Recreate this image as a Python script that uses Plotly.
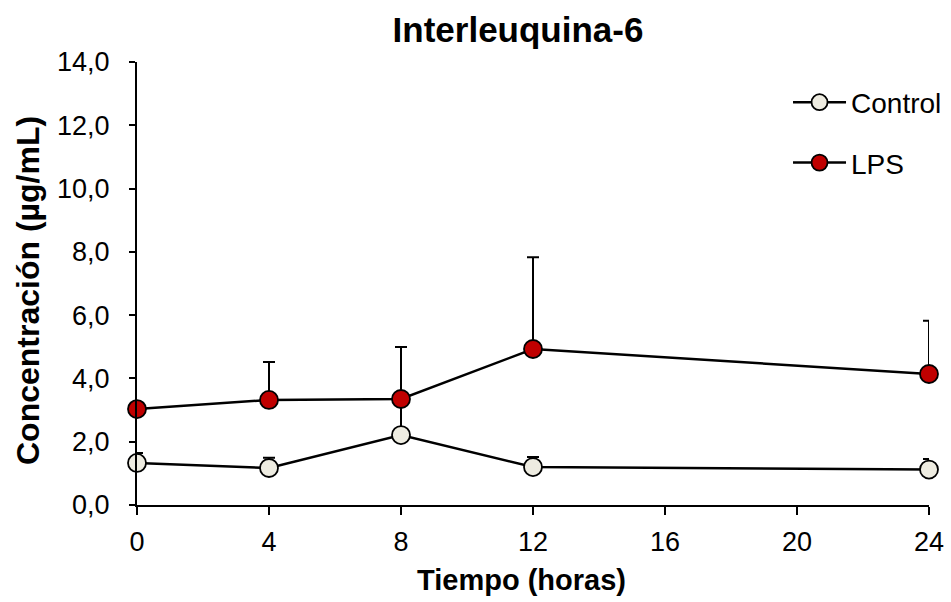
import plotly.graph_objects as go

# Sampling times (hours)
horas = [0, 4, 8, 12, 24]

# IL-6 concentration (µg/mL): mean and upper standard deviation
control_media = [1.33, 1.17, 2.21, 1.20, 1.12]
control_de = [0.31, 0.32, 1.10, 0.32, 0.33]

lps_media = [3.03, 3.32, 3.35, 4.93, 4.14]
lps_de = [0.20, 1.20, 1.64, 2.90, 1.68]

x_ticks = [0, 4, 8, 12, 16, 20, 24]
y_ticks = [0, 2, 4, 6, 8, 10, 12, 14]

FONT = "Liberation Sans, Arial, sans-serif"
W, H = 951, 602

fig = go.Figure()


def serie(nombre, media, de, color):
    return go.Scatter(
        x=horas,
        y=media,
        name=nombre,
        mode="lines+markers",
        line=dict(color="black", width=2.5),
        marker=dict(size=18, color=color, line=dict(color="black", width=1.8)),
        error_y=dict(
            type="data",
            array=de,
            arrayminus=[0] * len(de),
            symmetric=False,
            color="black",
            thickness=2,
            width=6,
        ),
        cliponaxis=False,
        legendgroup=nombre,
    )


fig.add_trace(serie("Control", control_media, control_de, "#EEECE1"))
fig.add_trace(serie("LPS", lps_media, lps_de, "#C00000"))

# Axis titles placed as annotations on the page
fig.add_annotation(
    text="<b>Tiempo (horas)</b>",
    xref="paper", yref="paper",
    x=(521 - 137) / 792, y=-(580 - 505) / 443,
    xanchor="center", yanchor="middle",
    showarrow=False,
    font=dict(size=29, family=FONT, color="black"),
)
fig.add_annotation(
    text="<b>Concentración (µg/mL)</b>",
    xref="paper", yref="paper",
    x=-(137 - 28) / 792, y=(505 - 291) / 443,
    xanchor="center", yanchor="middle",
    textangle=-90,
    showarrow=False,
    font=dict(size=32, family=FONT, color="black"),
)

fig.update_layout(
    width=W,
    height=H,
    margin=dict(l=137, r=22, t=62, b=97, autoexpand=False),
    paper_bgcolor="white",
    plot_bgcolor="white",
    separators=", ",
    font=dict(family=FONT, color="black", size=27),
    title=dict(
        text="<b>Interleuquina-6</b>",
        x=518 / W,
        xanchor="center",
        xref="container",
        y=1 - 30 / H,
        yanchor="middle",
        yref="container",
        font=dict(size=35, family=FONT),
    ),
    showlegend=True,
    legend=dict(
        x=0.822,
        y=0.965,
        xanchor="left",
        yanchor="top",
        font=dict(size=28, family=FONT),
        bgcolor="rgba(0,0,0,0)",
        tracegroupgap=21,
        traceorder="grouped",
        itemwidth=53,
    ),
    xaxis=dict(
        range=[0, 24],
        tickvals=x_ticks,
        ticktext=[str(v) for v in x_ticks],
        showline=True,
        linecolor="black",
        linewidth=2,
        ticks="outside",
        ticklen=8,
        tickwidth=2,
        tickcolor="black",
        showgrid=False,
        zeroline=False,
        tickfont=dict(size=27),
        ticklabelstandoff=4,
    ),
    yaxis=dict(
        range=[0, 14],
        tickvals=y_ticks,
        tickformat=".1f",
        showline=True,
        linecolor="black",
        linewidth=2,
        ticks="outside",
        ticklen=6,
        tickwidth=2,
        tickcolor="black",
        showgrid=False,
        zeroline=False,
        tickfont=dict(size=27),
        ticklabelstandoff=14,
    ),
)

fig.write_html("out.html")
